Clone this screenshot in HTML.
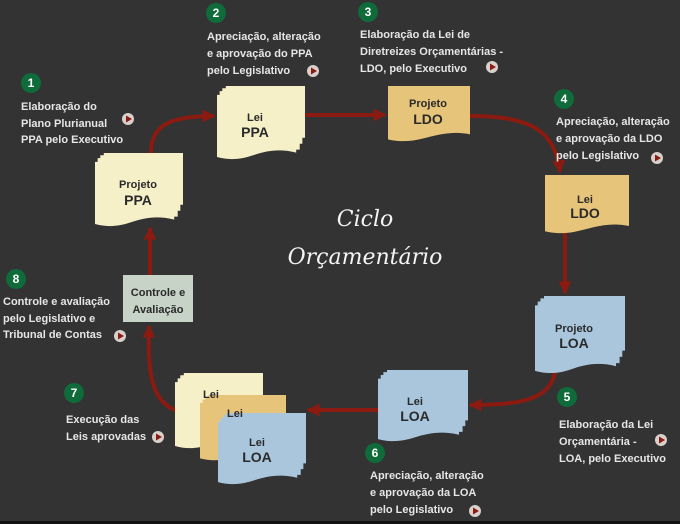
<!DOCTYPE html>
<html><head><meta charset="utf-8"><style>
html,body{margin:0;padding:0;background:#333;}
svg{display:block}
.t{font-family:"Liberation Sans",sans-serif;font-weight:bold;font-size:11px;fill:#e6e6e6}
.d{font-family:"Liberation Sans",sans-serif;font-weight:bold;fill:#2a2a2a;text-anchor:middle}
.n{font-family:"Liberation Sans",sans-serif;font-weight:bold;font-size:12px;fill:#fff;text-anchor:middle}
</style></head><body>
<svg width="680" height="524" viewBox="0 0 680 524" xmlns="http://www.w3.org/2000/svg">
<defs>
<path id="doc" d="M10,0 H100 V70 H97 V78 H94 V86 H90 V90 C70,84 55,88 40,94 C25,100 12,100 0,96 V12 H3 V7 H6 V3 H10 Z"/>
<path id="doc2" d="M0,0 H100 V88 C75,80 55,92 35,98 C20,102 8,100 0,97 Z"/>
<marker id="ar" viewBox="0 0 10 10" refX="9" refY="5" markerWidth="3.2" markerHeight="3.2" orient="auto"><path d="M0,0 L10,5 L0,10 Z" fill="#8b1a10"/></marker>
<g id="play"><circle r="6" fill="#d8d0cc"/><path d="M-2,-3.5 L4,0 L-2,3.5 Z" fill="#8b1a10"/></g>
</defs>
<rect width="680" height="524" fill="#333"/>
<rect y="521" width="680" height="3" fill="#111"/>

<g fill="none" stroke="#8b1a10" stroke-width="4">
<path d="M151,153 C151,125 170,116 214,116" marker-end="url(#ar)"/>
<path d="M305,115 H385" marker-end="url(#ar)"/>
<path d="M470,116 C530,116 555,130 560,172" marker-end="url(#ar)"/>
<path d="M565,232 V293" marker-end="url(#ar)"/>
<path d="M555,372 C550,400 520,405 470,405" marker-end="url(#ar)"/>
<path d="M378,410 H308" marker-end="url(#ar)"/>
<path d="M175,410 C150,400 148,370 149,326" marker-end="url(#ar)"/>
<path d="M150,275 V228" marker-end="url(#ar)"/>
</g>

<use href="#doc" transform="translate(217,86) scale(0.88,0.74)" fill="#f6f0c8"/>
<use href="#doc" transform="translate(95,153) scale(0.88,0.74)" fill="#f6f0c8"/>
<use href="#doc2" transform="translate(388,86) scale(0.82,0.55)" fill="#e6c47a"/>
<use href="#doc2" transform="translate(545,175) scale(0.84,0.58)" fill="#e6c47a"/>
<use href="#doc" transform="translate(535,296) scale(0.9,0.78)" fill="#a9c6dc"/>
<use href="#doc" transform="translate(378,370) scale(0.9,0.72)" fill="#a9c6dc"/>
<use href="#doc" transform="translate(175,373) scale(0.88,0.76)" fill="#f6f0c8"/>
<use href="#doc" transform="translate(200,395) scale(0.86,0.66)" fill="#e6c47a"/>
<use href="#doc" transform="translate(218,413) scale(0.88,0.72)" fill="#a9c6dc"/>
<rect x="123" y="275" width="70" height="47" fill="#c6d3c6"/>

<text class="d" font-size="11" x="255" y="121">Lei</text><text class="d" font-size="14" x="255" y="137">PPA</text>
<text class="d" font-size="11" x="138" y="188">Projeto</text><text class="d" font-size="14" x="138" y="205">PPA</text>
<text class="d" font-size="11" x="428" y="107">Projeto</text><text class="d" font-size="14" x="428" y="124">LDO</text>
<text class="d" font-size="11" x="585" y="203">Lei</text><text class="d" font-size="14" x="585" y="218">LDO</text>
<text class="d" font-size="11" x="574" y="332">Projeto</text><text class="d" font-size="14" x="574" y="348">LOA</text>
<text class="d" font-size="11" x="415" y="405">Lei</text><text class="d" font-size="14" x="415" y="421">LOA</text>
<text class="d" font-size="11" x="211" y="398">Lei</text>
<text class="d" font-size="11" x="235" y="417">Lei</text>
<text class="d" font-size="11" x="257" y="446">Lei</text><text class="d" font-size="14" x="257" y="462">LOA</text>
<text class="d" font-size="11" x="158" y="296">Controle e</text><text class="d" font-size="11" x="158" y="313">Avaliação</text>

<text x="365" y="226" font-family="'DejaVu Serif',serif" font-style="italic" font-size="22" fill="#f4f4f4" text-anchor="middle">Ciclo</text>
<text x="365" y="264" font-family="'DejaVu Serif',serif" font-style="italic" font-size="22" fill="#f4f4f4" text-anchor="middle">Orçamentário</text>

<g fill="#0f6b3a">
<circle cx="31" cy="83" r="10"/><circle cx="216" cy="13" r="10"/><circle cx="368" cy="12" r="10"/>
<circle cx="564" cy="99" r="10"/><circle cx="567" cy="397" r="10"/><circle cx="375" cy="453" r="10"/>
<circle cx="74" cy="393" r="10"/><circle cx="16" cy="279" r="10"/>
</g>
<text class="n" x="31" y="87">1</text><text class="n" x="216" y="17">2</text><text class="n" x="368" y="16">3</text>
<text class="n" x="564" y="103">4</text><text class="n" x="567" y="401">5</text><text class="n" x="375" y="457">6</text>
<text class="n" x="74" y="397">7</text><text class="n" x="16" y="283">8</text>

<g class="t">
<text x="21" y="110">Elaboração do</text><text x="21" y="127">Plano Plurianual</text><text x="21" y="143">PPA pelo Executivo</text>
<text x="207" y="40">Apreciação, alteração</text><text x="207" y="57">e aprovação do PPA</text><text x="207" y="74">pelo Legislativo</text>
<text x="360" y="38">Elaboração da Lei de</text><text x="360" y="55">Diretreizes Orçamentárias -</text><text x="360" y="72">LDO, pelo Executivo</text>
<text x="556" y="125">Apreciação, alteração</text><text x="556" y="142">e aprovação da LDO</text><text x="556" y="159">pelo Legislativo</text>
<text x="559" y="428">Elaboração da Lei</text><text x="559" y="445">Orçamentária -</text><text x="559" y="462">LOA, pelo Executivo</text>
<text x="370" y="479">Apreciação, alteração</text><text x="370" y="496">e aprovação da LOA</text><text x="370" y="513">pelo Legislativo</text>
<text x="66" y="423">Execução das</text><text x="66" y="440">Leis aprovadas</text>
<text x="3" y="305">Controle e avaliação</text><text x="3" y="322">pelo Legislativo e</text><text x="3" y="338">Tribunal de Contas</text>
</g>
<use href="#play" x="128" y="119"/><use href="#play" x="313" y="71"/><use href="#play" x="492" y="67"/>
<use href="#play" x="657" y="158"/><use href="#play" x="661" y="440"/><use href="#play" x="475" y="511"/>
<use href="#play" x="158" y="437"/><use href="#play" x="120" y="336"/>
</svg>
</body></html>
